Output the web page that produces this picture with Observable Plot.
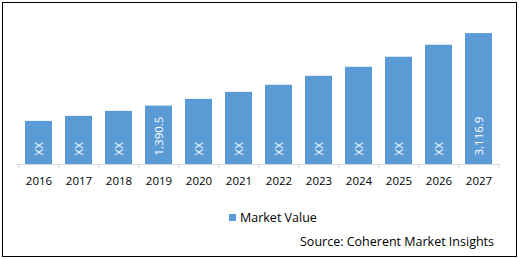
<!DOCTYPE html>
<html>
<head>
<meta charset="utf-8">
<script src="https://cdn.jsdelivr.net/npm/d3@7"></script>
<script src="https://cdn.jsdelivr.net/npm/@observablehq/plot@0.6"></script>
<style>
  html, body { margin: 0; padding: 0; background: #fff; }
  #wrap { position: relative; width: 519px; height: 259px; font-family: "Open Sans", sans-serif; }
  #frame { position: absolute; left: 2px; top: 2px; width: 513px; height: 253px; border: 1px solid #000; box-sizing: content-box; pointer-events: none; }
  #chart { position: absolute; left: 0; top: 0; }
  #legend { position: absolute; left: 229px; top: 209px; font-size: 12.5px; color: #000; display: flex; align-items: center; }
  #legend .sw { width: 7px; height: 7px; background: #5B9BD5; margin-right: 4px; }
  #source { position: absolute; right: 25px; top: 233px; font-size: 12.5px; color: #000; }
</style>
</head>
<body>
<div id="wrap">
  <div id="chart"></div>
  <div id="legend"><span class="sw"></span><span>Market Value</span></div>
  <div id="source">Source: Coherent Market Insights</div>
  <div id="frame"></div>
</div>
<script>
const years = ["2016","2017","2018","2019","2020","2021","2022","2023","2024","2025","2026","2027"];
const values = [1026, 1146, 1265, 1390.5, 1551, 1718, 1886, 2100, 2315, 2554, 2840, 3116.9];
const labels = ["XX","XX","XX","1,390.5","XX","XX","XX","XX","XX","XX","XX","3,116.9"];

const data = years.map((y, i) => ({year: y, value: values[i], label: labels[i]}));
const step = (519 - 16 - 19) / years.length;

const chart = Plot.plot({
  width: 519,
  height: 259,
  marginTop: 17,
  marginBottom: 95,
  marginLeft: 16,
  marginRight: 19,
  style: {fontFamily: "Open Sans, sans-serif", fontSize: "11.5px", background: "transparent", color: "#000"},
  x: {domain: years, paddingInner: 0.33, paddingOuter: 0.165, label: null},
  y: {domain: [0, 3500], axis: null},
  marks: [
    Plot.barY(data, {x: "year", y: "value", fill: "#5B9BD5"}),
    Plot.ruleY([0], {stroke: "#d9d9d9"}),
    Plot.ruleX(data, {x: "year", y1: 0, y2: -100, stroke: "#d9d9d9", dx: -step / 2}),
    Plot.ruleX(data.slice(-1), {x: "year", y1: 0, y2: -100, stroke: "#d9d9d9", dx: step / 2}),
    Plot.text(data, {x: "year", y: 0, text: "label", rotate: -90, textAnchor: "start", lineAnchor: "middle", fill: "#fff", fontSize: 11.5, dy: -9}),
    Plot.axisX({tickSize: 0, tickPadding: 12, fontSize: 11.5, label: null})
  ]
});
document.getElementById("chart").appendChild(chart);
</script>
</body>
</html>
